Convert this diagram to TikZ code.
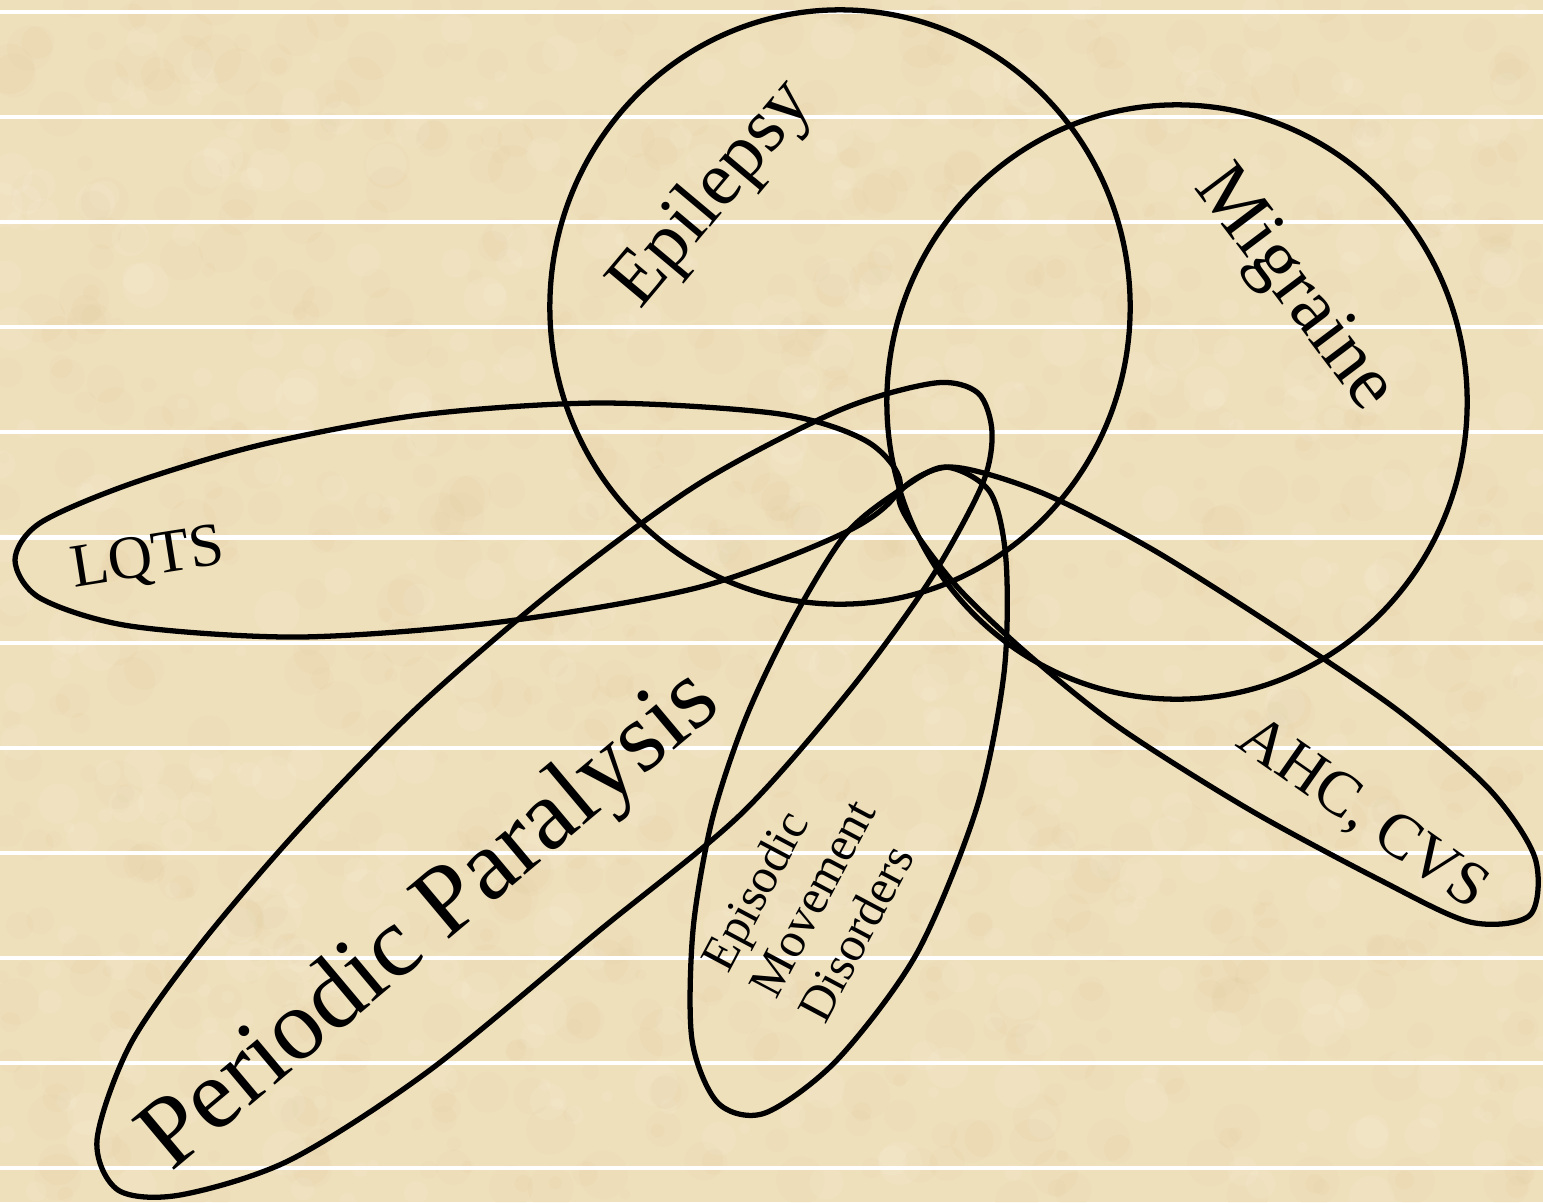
\documentclass[tikz,border=0pt]{standalone}
\usepackage{fontspec}
\setmainfont{Liberation Serif}
\definecolor{parchment}{RGB}{239,224,188}
\definecolor{stain}{RGB}{214,190,140}
\begin{document}
\begin{tikzpicture}[x=0.01cm,y=-0.01cm,
  blob/.style={draw=black,line width=1.5pt},
  rule/.style={white,line width=1.15pt},
  tag/.style={inner sep=0pt,text=black}]
\fill[parchment] (0,0) rectangle (1543,1202);
\useasboundingbox (0,0) rectangle (1543,1202);
\pgfmathsetseed{42}
\foreach \k in {1,...,900}{
  \pgfmathsetmacro\px{1543*rnd}
  \pgfmathsetmacro\py{1202*rnd}
  \pgfmathsetmacro\pr{0.05+0.2*rnd}
  \fill[stain,opacity=0.07] (\px,\py) circle[radius=\pr cm];
}
\foreach \k in {1,...,500}{
  \pgfmathsetmacro\px{1543*rnd}
  \pgfmathsetmacro\py{1202*rnd}
  \pgfmathsetmacro\pr{0.05+0.18*rnd}
  \fill[white,opacity=0.08] (\px,\py) circle[radius=\pr cm];
}
\foreach \k in {0,...,11}
  \draw[rule] (0,{12+105.1*\k}) -- (1543,{12+105.1*\k});

\draw[blob] (840,307) ellipse [x radius=2.9cm, y radius=2.97cm];
\draw[blob] (1177,402) ellipse [x radius=2.9cm, y radius=2.97cm];

\draw[blob] plot[smooth cycle] coordinates {
  (15,560) (40,523) (130,484) (260,445) (420,415) (600,403) (780,414)
  (868,442) (900,486) (850,530) (700,587) (500,622) (300,637) (130,626)
  (40,598)};

\draw[blob] plot[smooth cycle] coordinates {
  (935,383) (978,393) (992,432) (982,485) (930,580) (850,690) (740,815)
  (600,930) (430,1070) (290,1160) (180,1195) (118,1190) (97,1140)
  (130,1045) (200,945) (300,828) (420,705) (560,585) (700,483) (840,410)};

\draw[blob] plot[smooth cycle] coordinates {
  (900,490) (945,467) (990,492) (1006,560) (1004,673) (977,807) (917,953)
  (837,1060) (765,1113) (718,1103) (692,1040) (693,930) (712,820)
  (745,720) (790,625) (845,535)};

\draw[blob] plot[smooth cycle] coordinates {
  (900,492) (950,467) (1040,492) (1150,548) (1280,630) (1400,712)
  (1490,790) (1535,858) (1530,915) (1470,922) (1380,880) (1250,810)
  (1120,728) (1030,656) (960,590) (914,530)};

\node[tag,rotate=50,font=\fontsize{22}{26}\selectfont] (epilepsy) at (713,195) {Epilepsy};
\node[tag,rotate=-53,font=\fontsize{22}{26}\selectfont] (migraine) at (1293,290) {Migraine};
\node[tag,rotate=9,font=\fontsize{17.5}{21}\selectfont] (lqts) at (148,560) {LQTS};
\node[tag,rotate=40,font=\fontsize{28.5}{34}\selectfont] (periodic) at (432,922) {Periodic Paralysis};
\node[tag,rotate=-35,font=\fontsize{18}{22}\selectfont] (ahc) at (1362,815) {AHC, CVS};
\node[tag,rotate=62,align=left,font=\fontsize{14}{15.6}\selectfont] (emd) at (812,898)
  {Episodic\\Movement\\Disorders};
\end{tikzpicture}
\end{document}
